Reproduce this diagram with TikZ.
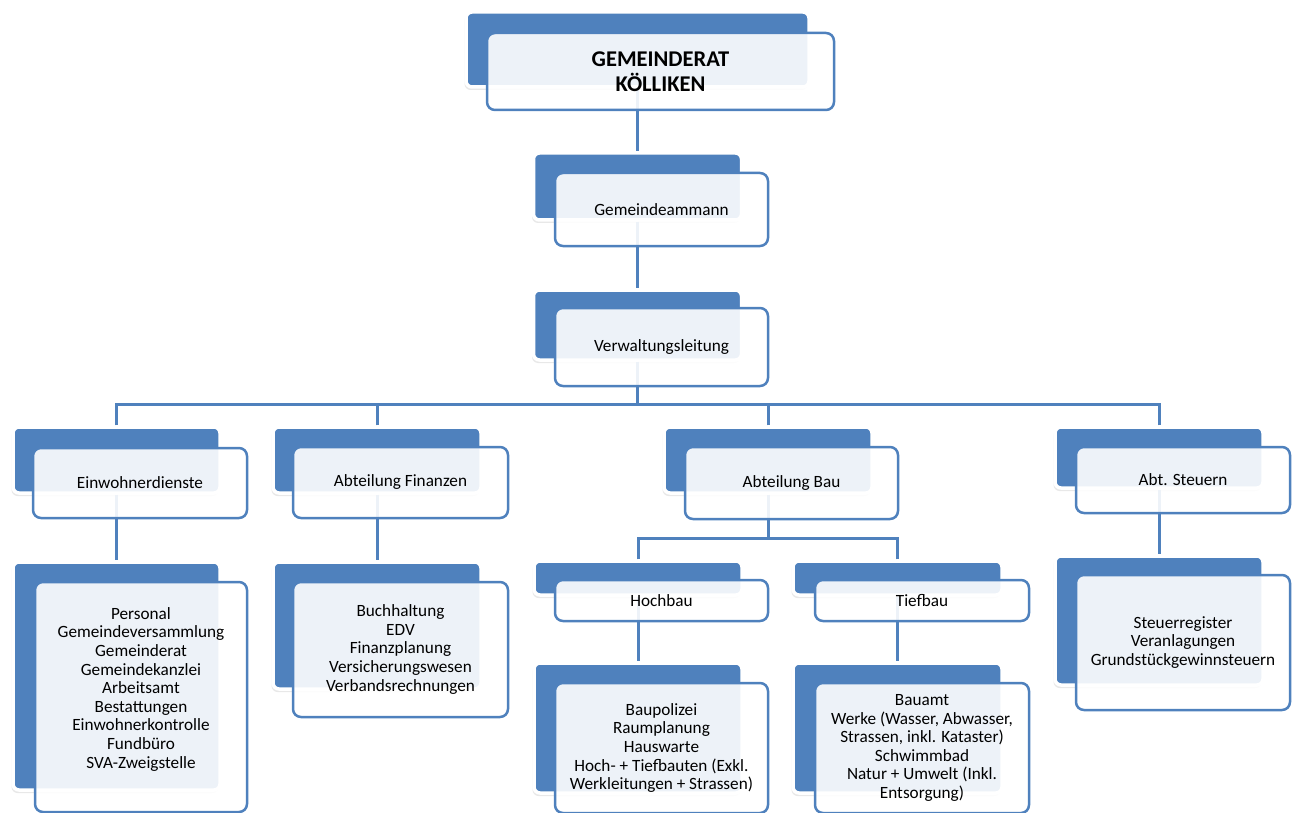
\documentclass[tikz,border=0pt]{standalone}
\usepackage{fontspec}
\setmainfont{Carlito}
\usetikzlibrary{shadows}
\definecolor{orgblue}{RGB}{79,129,189}

\begin{document}
\begin{tikzpicture}[x=1pt, y=-1pt,
        wh/.style 2 args={minimum width=#1pt, minimum height=#2pt},
        back/.style={rectangle, rounded corners=6pt, fill=orgblue, draw=white, line width=3.5pt, inner sep=0pt,
            drop shadow={shadow xshift=-1.5pt, shadow yshift=-3pt, opacity=.18}},
        front/.style={rectangle, rounded corners=8pt, draw=orgblue, line width=2.5pt, fill=white, fill opacity=.9,
            text opacity=1, align=center, inner sep=0pt, font=\fontsize{17.2}{18.6}\selectfont},
        link/.style={draw=orgblue, line width=3pt}
    ]
    \useasboundingbox (0,0) rectangle (1293,813);

    % hintere Kaesten
    \node[back, wh={343}{75}] (grB) at (637.5,49.5) {};
    \node[back, wh={208}{67}] (gaB) at (637.5,186.5) {};
    \node[back, wh={208}{70}] (vlB) at (637.5,325) {};
    \node[back, wh={207}{66}] (ewB) at (116.5,460) {};
    \node[back, wh={208}{66}] (fiB) at (377,460) {};
    \node[back, wh={208}{66}] (bauB) at (768,460) {};
    \node[back, wh={208}{61}] (stB) at (1159,457.5) {};
    \node[back, wh={207}{228}] (ewlB) at (116.5,676) {};
    \node[back, wh={208}{127}] (filB) at (377,625.5) {};
    \node[back, wh={208}{34}] (hbB) at (638,578) {};
    \node[back, wh={209}{34}] (tbB) at (897.5,578) {};
    \node[back, wh={208}{130}] (hblB) at (638,728) {};
    \node[back, wh={209}{130}] (tblB) at (897.5,728) {};
    \node[back, wh={208}{129}] (stlB) at (1159,620.5) {};

    % Verbindungen
    \coordinate (bus) at (637.5,404);
    \coordinate (bus2) at (768,538);
    \draw[link] (grB.south) -- (gaB.north);
    \draw[link] (gaB.south) -- (vlB.north);
    \draw[link] (vlB.south) -- (bus);
    \foreach \n in {ewB,fiB,bauB,stB} \draw[link] (\n.north) |- (bus);
    \draw[link] (ewB.south) -- (ewlB.north);
    \draw[link] (fiB.south) -- (filB.north);
    \draw[link] (bauB.south) -- (bus2);
    \foreach \n in {hbB,tbB} \draw[link] (\n.north) |- (bus2);
    \draw[link] (hbB.south) -- (hblB.north);
    \draw[link] (tbB.south) -- (tblB.north);
    \draw[link] (stB.south) -- (stlB.north);

    % vordere Kaesten mit Text
    \node[front, wh={347}{77}, font=\bfseries\fontsize{22.5}{25}\selectfont] (gr) at (660.5,71.5) {GEMEINDERAT\\KÖLLIKEN};
    \node[front, wh={213}{73}] (ga) at (661.5,209.5) {Gemeindeammann};
    \node[front, wh={213}{78}] (vl) at (661.5,347) {Verwaltungsleitung};
    \node[front, wh={214}{70}] (ew) at (140,483) {Einwohnerdienste};
    \node[front, wh={215}{71}] (fi) at (400.5,482.5) {Abteilung Finanzen};
    \node[front, wh={213}{72}] (bau) at (791.5,483) {Abteilung Bau};
    \node[front, wh={214}{66}] (st) at (1183,480) {Abt. Steuern};
    \node[front, wh={212}{230}] (ewl) at (141,697) {Personal\\Gemeindeversammlung\\Gemeinderat\\Gemeindekanzlei\\Arbeitsamt\\Bestattungen\\Einwohnerkontrolle\\Fundbüro\\SVA-Zweigstelle\\ \mbox{}};
    \node[front, wh={215}{135}] (fil) at (400.5,649.5) {Buchhaltung\\EDV\\Finanzplanung\\Versicherungswesen\\Verbandsrechnungen};
    \node[front, wh={213}{41}] (hb) at (661.5,600.5) {Hochbau};
    \node[front, wh={214}{41}] (tb) at (922,600.5) {Tiefbau};
    \node[front, wh={213}{130}] (hbl) at (661.5,748) {Baupolizei\\Raumplanung\\Hauswarte\\Hoch- + Tiefbauten (Exkl.\\Werkleitungen + Strassen)};
    \node[front, wh={214}{130}] (tbl) at (922,748) {Bauamt\\Werke (Wasser, Abwasser,\\Strassen, inkl. Kataster)\\Schwimmbad\\Natur + Umwelt (Inkl.\\Entsorgung)};
    \node[front, wh={214}{135}] (stl) at (1183,642.5) {Steuerregister\\Veranlagungen\\Grundstückgewinnsteuern};
\end{tikzpicture}
\end{document}
